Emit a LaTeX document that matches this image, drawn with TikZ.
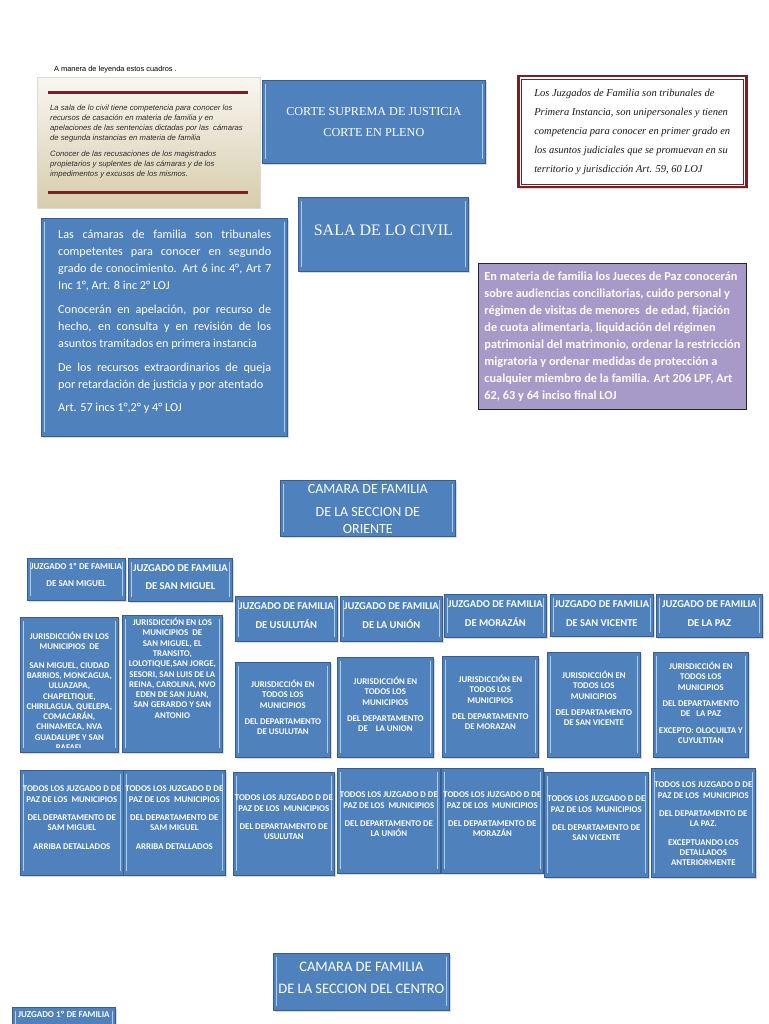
\documentclass[tikz,border=0pt]{standalone}
\usepackage{fontspec}
\setmainfont{Carlito}
\newfontfamily\timesfont{Liberation Serif}
\newfontfamily\arialfont{Liberation Sans}
\usetikzlibrary{positioning, shadows, calc}
\definecolor{azulcaja}{RGB}{79,129,189}
\definecolor{bordecaja}{RGB}{56,93,138}
\definecolor{filoclaro}{RGB}{170,205,240}
\definecolor{granate}{RGB}{120,32,36}
\definecolor{lila}{RGB}{168,154,200}
\definecolor{beigesup}{RGB}{248,246,240}
\definecolor{beigeinf}{RGB}{214,205,172}
\definecolor{grisoscuro}{RGB}{45,45,45}
\tikzset{
  caja/.style={draw=bordecaja, fill=azulcaja, line width=0.7pt, anchor=north west, inner sep=0pt, text=white,
    drop shadow={shadow xshift=1.2pt, shadow yshift=-1.2pt, opacity=0.3},
    path picture={
      \draw[filoclaro, line width=1.3pt] ([xshift=2.8pt,yshift=-4pt]path picture bounding box.north west) -- ([xshift=2.8pt,yshift=4pt]path picture bounding box.south west);
      \draw[filoclaro, line width=1.3pt] ([xshift=-2.8pt,yshift=-4pt]path picture bounding box.north east) -- ([xshift=-2.8pt,yshift=4pt]path picture bounding box.south east);
    }},
  tam/.style 2 args={minimum width=#1pt, minimum height=#2pt},
  texto/.style={text=white, align=center, inner sep=0pt, font=\bfseries\fontsize{8.8}{10.3}\selectfont},
  titulo/.style={text=white, align=center, inner sep=0pt, font=\bfseries\fontsize{10.5}{19}\selectfont},
}
\begin{document}
\begin{tikzpicture}[x=1pt,y=-1pt]
        \useasboundingbox (0,0) rectangle (768,1024);
        %leyenda
        \node[anchor=west, inner sep=0pt, font=\arialfont\fontsize{7.4}{8}\selectfont] (leyenda) at (54,70) {A manera de leyenda estos cuadros .};
        \node[anchor=north west, tam={223}{131}, top color=beigesup, bottom color=beigeinf, draw=black!15, drop shadow={shadow xshift=1.2pt, shadow yshift=-1.2pt, opacity=0.3}] (cuadroleyenda) at (37,77) {};
        \draw[granate, line width=3pt] ([xshift=11pt,yshift=-16pt]cuadroleyenda.north west) -- ([xshift=-12pt,yshift=-16pt]cuadroleyenda.north east);
        \draw[granate, line width=3pt] ([xshift=11pt,yshift=16pt]cuadroleyenda.south west) -- ([xshift=-12pt,yshift=16pt]cuadroleyenda.south east);
        \node[below right=28pt and 13pt of cuadroleyenda.north west, inner sep=0pt, align=left, text=grisoscuro, font=\arialfont\itshape\fontsize{7.7}{10}\selectfont] (textoleyenda) {La sala de lo civil tiene competencia para conocer los\\recursos de casación en materia de familia y en\\apelaciones de las sentencias dictadas por las\ \ cámaras\\de segunda instancias en materia de familia\\[6pt]Conocer de las recusaciones de los magistrados\\propietarios y suplentes de las cámaras y de los\\impedimentos y excusos de los mismos.};
        %corte suprema y sala
        \node[caja, tam={223}{83}, align=center, font=\timesfont\fontsize{12.2}{21}\selectfont] (corte) at (262,80) {CORTE SUPREMA DE JUSTICIA\\CORTE EN PLENO};
        \node[caja, tam={170}{74}, text depth=9pt, font=\timesfont\fontsize{16}{18}\selectfont] (sala) at (298,197) {SALA DE LO CIVIL};
        %juzgados de familia
        \node[anchor=north west, tam={228}{111}, fill=white, draw=granate, line width=2.5pt, inner sep=0pt, align=left, text=black!90, font=\timesfont\itshape\fontsize{10.5}{19}\selectfont, drop shadow={shadow xshift=1.5pt, shadow yshift=-1.5pt, opacity=0.3}] (juzgados) at (517,75) {Los Juzgados de Familia son tribunales de\\Primera Instancia, son unipersonales y tienen\\competencia para conocer en primer grado en\\los asuntos judiciales que se promuevan en su\\territorio y jurisdicción Art. 59, 60 LOJ};
        \draw[granate, line width=0.7pt] ([shift={(4pt,-4pt)}]juzgados.north west) rectangle ([shift={(-4pt,4pt)}]juzgados.south east);
        %camaras
        \node[caja, tam={246}{218}] (camaras) at (41,218) {};
        \node[below right=12pt and 17pt of camaras.north west, inner sep=0pt, text width=213pt, align=justify, text=white, font=\fontsize{12.2}{17}\selectfont] (textocamaras) {Las cámaras de familia son tribunales\linebreak competentes para conocer en segundo\linebreak grado de conocimiento. Art 6 inc 4°, Art 7\linebreak Inc 1°, Art. 8 inc 2° LOJ\\[7pt]Conocerán en apelación, por recurso de\linebreak hecho, en consulta y en revisión de los\linebreak asuntos tramitados en primera instancia\\[7pt]De los recursos extraordinarios de queja\linebreak por retardación de justicia y por atentado\\[6pt]Art. 57 incs 1°,2° y 4° LOJ};
        %jueces de paz
        \node[anchor=north west, tam={268}{146}, fill=lila, draw=black!85, line width=0.8pt, inner sep=0pt, align=left, text=white, font=\bfseries\fontsize{12.3}{17}\selectfont] (jueces) at (478,263) {En materia de familia los Jueces de Paz conocerán\\sobre audiencias conciliatorias, cuido personal y\\régimen de visitas de menores\ \ de edad, fijación\\de cuota alimentaria, liquidación del régimen\\patrimonial del matrimonio, ordenar la restricción\\migratoria y ordenar medidas de protección a\\cualquier miembro de la familia. Art 206 LPF, Art\\62, 63 y 64 inciso final LOJ};
        %camara de oriente
        \node[caja, tam={175}{56}] (oriente) at (280,480) {};
        \node[below=4pt of oriente.north, inner sep=0pt, align=center, text=white, font=\fontsize{14}{17}\selectfont] (textooriente) {CAMARA DE FAMILIA\\[6pt]DE LA SECCION DE\\ORIENTE};
        %juzgados de oriente
        \node[caja, tam={98}{42}] (juzuno) at (27,558) {};
        \node[titulo, font=\bfseries\fontsize{9}{17}\selectfont, below=5pt of juzuno.north] {JUZGADO 1º DE FAMILIA\\DE SAN MIGUEL};
        \node[caja, tam={104}{43}] (juzdos) at (128,558) {};
        \node[titulo, font=\bfseries\fontsize{10.5}{18}\selectfont, below=6pt of juzdos.north] {JUZGADO DE FAMILIA\\DE SAN MIGUEL};
        \node[caja, tam={102}{45}] (juzusu) at (235,596) {};
        \node[titulo, below=6pt of juzusu.north] {JUZGADO DE FAMILIA\\DE USULUTÁN};
        \node[caja, tam={102}{45}] (juzuni) at (340,596) {};
        \node[titulo, below=6pt of juzuni.north] {JUZGADO DE FAMILIA\\DE LA UNIÓN};
        \node[caja, tam={102}{43}] (juzmor) at (444,594) {};
        \node[titulo, below=6pt of juzmor.north] {JUZGADO DE FAMILIA\\DE MORAZÁN};
        \node[caja, tam={103}{42}] (juzvic) at (550,594) {};
        \node[titulo, below=6pt of juzvic.north] {JUZGADO DE FAMILIA\\DE SAN VICENTE};
        \node[caja, tam={106}{43}] (juzpaz) at (656,594) {};
        \node[titulo, below=6pt of juzpaz.north] {JUZGADO DE FAMILIA\\DE LA PAZ};
        %jurisdicciones
        \node[caja, tam={98}{135}] (jurmig) at (20,617) {};
        \begin{scope}
        \clip ([yshift=5pt]jurmig.south west) rectangle (jurmig.north east);
        \node[texto, below=15pt of jurmig.north] {JURISDICCIÓN EN LOS\\MUNICIPIOS\ \ DE\\[8pt]SAN MIGUEL, CIUDAD\\BARRIOS, MONCAGUA,\\ULUAZAPA,\\CHAPELTIQUE,\\CHIRILAGUA, QUELEPA,\\COMACARÁN,\\CHINAMECA, NVA\\GUADALUPE Y SAN\\RAFAEL};
        \end{scope}
        \node[caja, tam={100}{137}] (jurmigdos) at (122,615) {};
        \node[texto, below=3pt of jurmigdos.north] {JURISDICCIÓN EN LOS\\MUNICIPIOS\ \ DE\\SAN MIGUEL, EL\\TRANSITO,\\LOLOTIQUE,SAN JORGE,\\SESORI, SAN LUIS DE LA\\REINA, CAROLINA, NVO\\EDEN DE SAN JUAN,\\SAN GERARDO Y SAN\\ANTONIO};
        \node[caja, tam={95}{95}] (jurusu) at (235,662) {};
        \node[texto, below=18pt of jurusu.north] {JURISDICCIÓN EN\\TODOS LOS\\MUNICIPIOS\\[6pt]DEL DEPARTAMENTO\\DE USULUTAN};
        \node[caja, tam={96}{100}] (juruni) at (337,657) {};
        \node[texto, below=20pt of juruni.north] {JURISDICCIÓN EN\\TODOS LOS\\MUNICIPIOS\\[6pt]DEL DEPARTAMENTO\\DE\ \ \ \ LA UNION};
        \node[caja, tam={96}{101}] (jurmor) at (442,656) {};
        \node[texto, below=19pt of jurmor.north] {JURISDICCIÓN EN\\TODOS LOS\\MUNICIPIOS\\[6pt]DEL DEPARTAMENTO\\DE MORAZAN};
        \node[caja, tam={93}{105}] (jurvic) at (547,652) {};
        \node[texto, below=19pt of jurvic.north] {JURISDICCIÓN EN\\TODOS LOS\\MUNICIPIOS\\[6pt]DEL DEPARTAMENTO\\DE SAN VICENTE};
        \node[caja, tam={95}{105}] (jurpaz) at (653,652) {};
        \node[texto, below=10pt of jurpaz.north] {JURISDICCIÓN EN\\TODOS LOS\\MUNICIPIOS\\[6pt]DEL DEPARTAMENTO\\DE\ \ \ LA PAZ\\[6pt]EXCEPTO: OLOCUILTA Y\\CUYULTITAN};
        %juzgados de paz
        \node[caja, tam={103}{105}] (pazmig) at (20,770) {};
        \node[texto, below=16pt of pazmig.north] {TODOS LOS JUZGADO D DE\\PAZ DE LOS\ \ MUNICIPIOS\\[8pt]DEL DEPARTAMENTO DE\\SAM MIGUEL\\[8pt]ARRIBA DETALLADOS};
        \node[caja, tam={102}{105}] (pazmigdos) at (123,770) {};
        \node[texto, below=16pt of pazmigdos.north] {TODOS LOS JUZGADO D DE\\PAZ DE LOS\ \ MUNICIPIOS\\[8pt]DEL DEPARTAMENTO DE\\SAM MIGUEL\\[8pt]ARRIBA DETALLADOS};
        \node[caja, tam={101}{103}] (pazusu) at (233,772) {};
        \node[texto, below=23pt of pazusu.north] {TODOS LOS JUZGADO D DE\\PAZ DE LOS\ \ MUNICIPIOS\\[8pt]DEL DEPARTAMENTO DE\\USULUTAN};
        \node[caja, tam={103}{105}] (pazuni) at (337,768) {};
        \node[texto, below=24pt of pazuni.north] {TODOS LOS JUZGADO D DE\\PAZ DE LOS\ \ MUNICIPIOS\\[8pt]DEL DEPARTAMENTO DE\\LA UNIÓN};
        \node[caja, tam={102}{105}] (pazmor) at (441,768) {};
        \node[texto, below=24pt of pazmor.north] {TODOS LOS JUZGADO D DE\\PAZ DE LOS\ \ MUNICIPIOS\\[8pt]DEL DEPARTAMENTO DE\\MORAZÁN};
        \node[caja, tam={104}{105}] (pazvic) at (544,772) {};
        \node[texto, below=24pt of pazvic.north] {TODOS LOS JUZGADO D DE\\PAZ DE LOS\ \ MUNICIPIOS\\[8pt]DEL DEPARTAMENTO DE\\SAN VICENTE};
        \node[caja, tam={104}{109}] (pazpaz) at (651,768) {};
        \node[texto, below=14pt of pazpaz.north] {TODOS LOS JUZGADO D DE\\PAZ DE LOS\ \ MUNICIPIOS\\[8pt]DEL DEPARTAMENTO DE\\LA PAZ.\\[8pt]EXCEPTUANDO LOS\\DETALLADOS\\ANTERIORMENTE};
        %camara del centro
        \node[caja, tam={176}{57}] (centro) at (273,953) {};
        \node[below=9pt of centro.north, inner sep=0pt, align=center, text=white, font=\fontsize{14.5}{22}\selectfont] (textocentro) {CAMARA DE FAMILIA\\DE LA SECCION DEL CENTRO};
        \node[caja, tam={103}{30}] (juzcentro) at (12,1007) {};
        \node[titulo, font=\bfseries\fontsize{9}{17}\selectfont, below=4pt of juzcentro.north] {JUZGADO 1º DE FAMILIA};
\end{tikzpicture}
\end{document}
